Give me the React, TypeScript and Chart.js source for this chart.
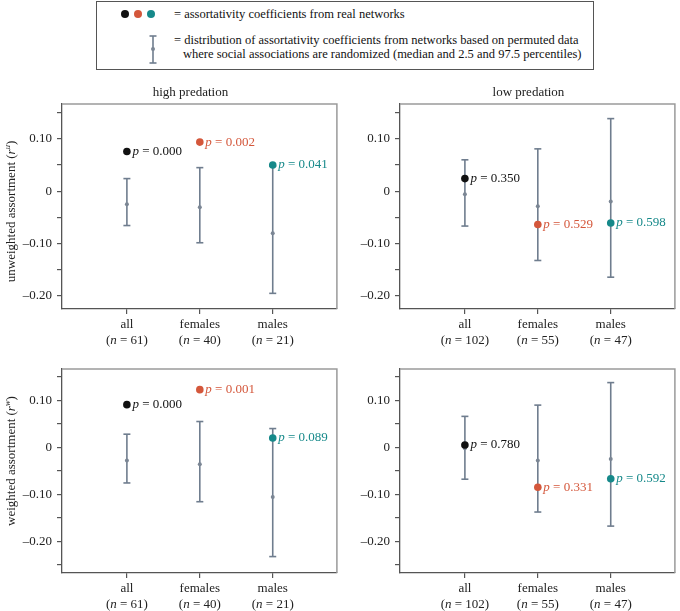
import React, { useEffect, useRef } from 'react';
import { Chart, registerables } from 'chart.js';

Chart.register(...registerables);

// ---------- data ----------
const categories = ['all', 'females', 'males'];
const nHigh = [61, 40, 21];
const nLow = [102, 55, 47];

const yTickValues = [0.1, 0, -0.1, -0.2];
const yTickLabels = ['0.10', '0', '\u20130.10', '\u20130.20'];

// high predation, unweighted
const highUnwReal = [0.076, 0.094, 0.05];
const highUnwMedian = [-0.025, -0.031, -0.081];
const highUnwLow = [-0.066, -0.099, -0.196];
const highUnwHigh = [0.024, 0.045, 0.048];
const highUnwP = ['0.000', '0.002', '0.041'];

// low predation, unweighted
const lowUnwReal = [0.024, -0.064, -0.061];
const lowUnwMedian = [-0.006, -0.029, -0.02];
const lowUnwLow = [-0.067, -0.133, -0.165];
const lowUnwHigh = [0.06, 0.081, 0.139];
const lowUnwP = ['0.350', '0.529', '0.598'];

// high predation, weighted
const highWReal = [0.091, 0.123, 0.02];
const highWMedian = [-0.028, -0.036, -0.106];
const highWLow = [-0.076, -0.116, -0.233];
const highWHigh = [0.028, 0.055, 0.04];
const highWP = ['0.000', '0.001', '0.089'];

// low predation, weighted
const lowWReal = [0.005, -0.085, -0.067];
const lowWMedian = [-0.002, -0.028, -0.025];
const lowWLow = [-0.068, -0.138, -0.168];
const lowWHigh = [0.066, 0.09, 0.138];
const lowWP = ['0.780', '0.331', '0.592'];

// ---------- styles ----------
const FONT = '"Liberation Serif", "Times New Roman", serif';
const pointColors = ['#111111', '#d4573b', '#16898a'];
const barColor = '#6f7d8e';
const medianColor = '#7b8694';
const axisColor = '#555555';
const boxColor = '#9a9a9a';
const textColor = '#222222';

type Run = { t: string; italic?: boolean; size?: number; dy?: number };

function runFont(r: Run) {
  return `${r.italic ? 'italic ' : ''}${r.size ?? 13}px ${FONT}`;
}

function measureRuns(ctx: CanvasRenderingContext2D, runs: Run[]) {
  let w = 0;
  for (const r of runs) {
    ctx.font = runFont(r);
    w += ctx.measureText(r.t).width;
  }
  return w;
}

function drawRuns(ctx: CanvasRenderingContext2D, runs: Run[], x: number, y: number, align: 'left' | 'center') {
  let cx = x;
  if (align === 'center') cx = x - measureRuns(ctx, runs) / 2;
  ctx.textAlign = 'left';
  ctx.textBaseline = 'middle';
  for (const r of runs) {
    ctx.font = runFont(r);
    ctx.fillText(r.t, cx, y + (r.dy ?? 0));
    cx += ctx.measureText(r.t).width;
  }
}

type PanelProps = {
  left: number;
  top: number;
  width: number;
  height: number;
  padTop: number;
  padRight: number;
  yWidth: number;
  xHeight: number;
  yMin: number;
  yMax: number;
  real: number[];
  median: number[];
  low: number[];
  high: number[];
  p: string[];
  n: number[];
  title?: string;
  yTitle?: string;
  yTitleSup?: string;
  yTitleShift?: number;
};

function Panel(props: PanelProps) {
  const ref = useRef<HTMLCanvasElement | null>(null);

  useEffect(() => {
    const canvas = ref.current;
    if (!canvas) return;
    const { real, median, low, high, p, n } = props;

    const datasets: any[] = [
      {
        label: 'real',
        data: categories.map((_, i) => ({ x: i, y: real[i] })),
        backgroundColor: pointColors,
        pointBackgroundColor: pointColors,
        pointRadius: 3.8,
        pointHoverRadius: 3.8,
        borderWidth: 0,
        pointBorderWidth: 0,
      },
      {
        label: 'median',
        data: categories.map((_, i) => ({ x: i, y: median[i] })),
        backgroundColor: medianColor,
        pointBackgroundColor: medianColor,
        pointRadius: 2,
        pointHoverRadius: 2,
        borderWidth: 0,
        pointBorderWidth: 0,
      },
    ];
    categories.forEach((_, i) => {
      datasets.push({
        label: 'range' + i,
        showLine: true,
        data: [
          { x: i, y: low[i] },
          { x: i, y: high[i] },
        ],
        borderColor: barColor,
        borderWidth: 1.6,
        pointStyle: 'line',
        pointRadius: 3.5,
        pointHoverRadius: 3.5,
        pointBorderColor: barColor,
        pointBorderWidth: 1.6,
        fill: false,
      });
    });

    const decor = {
      id: 'decor',
      afterDraw(chart: any) {
        const ctx: CanvasRenderingContext2D = chart.ctx;
        const area = chart.chartArea;
        const xs = chart.scales.x;
        const ys = chart.scales.y;
        ctx.save();
        // top and right frame lines
        ctx.strokeStyle = boxColor;
        ctx.lineWidth = 1.5;
        ctx.beginPath();
        ctx.moveTo(area.left, area.top);
        ctx.lineTo(area.right, area.top);
        ctx.lineTo(area.right, area.bottom);
        ctx.stroke();

        // p-value labels
        categories.forEach((_, i) => {
          const px = xs.getPixelForValue(i);
          const py = ys.getPixelForValue(real[i]);
          ctx.fillStyle = pointColors[i];
          drawRuns(ctx, [{ t: 'p', italic: true }, { t: ' = ' + p[i] }], px + 5.5, py, 'left');
        });

        // category labels
        ctx.fillStyle = textColor;
        categories.forEach((c, i) => {
          const px = xs.getPixelForValue(i);
          drawRuns(ctx, [{ t: c }], px, area.bottom + 16, 'center');
          drawRuns(ctx, [{ t: '(' }, { t: 'n', italic: true }, { t: ' = ' + n[i] + ')' }], px, area.bottom + 32, 'center');
        });

        // panel title
        if (props.title) {
          drawRuns(ctx, [{ t: props.title }], (area.left + area.right) / 2 - 9, area.top - 11.5, 'center');
        }

        // y-axis title
        if (props.yTitle) {
          ctx.translate(11.5, (area.top + area.bottom) / 2 + (props.yTitleShift ?? 0));
          ctx.rotate(-Math.PI / 2);
          drawRuns(
            ctx,
            [
              { t: props.yTitle + ' (' },
              { t: 'r', italic: true },
              { t: props.yTitleSup || '', italic: true, size: 8.5, dy: -4 },
              { t: ')' },
            ],
            0,
            0,
            'center'
          );
        }
        ctx.restore();
      },
    };

    const chart = new Chart(canvas, {
      type: 'scatter',
      data: { datasets },
      plugins: [decor],
      options: {
        animation: false,
        responsive: false,
        events: [],
        layout: { padding: { top: props.padTop, right: props.padRight, left: 0, bottom: 0 } },
        plugins: {
          legend: { display: false },
          tooltip: { enabled: false },
          title: { display: false },
        },
        scales: {
          x: {
            type: 'linear',
            min: -0.89,
            max: 2.88,
            afterFit: (s: any) => {
              s.height = props.xHeight;
            },
            ticks: { display: false, stepSize: 1, includeBounds: false },
            grid: {
              display: true,
              drawOnChartArea: false,
              drawTicks: true,
              tickLength: 5,
              color: axisColor,
              lineWidth: 1.2,
            },
            border: { display: true, color: axisColor, width: 1.3 },
          },
          y: {
            type: 'linear',
            min: props.yMin,
            max: props.yMax,
            afterFit: (s: any) => {
              s.width = props.yWidth;
            },
            ticks: {
              stepSize: 0.05,
              includeBounds: false,
              autoSkip: false,
              padding: 5,
              color: textColor,
              font: { family: FONT, size: 13 },
              callback: (v: any) => {
                const val = Number(v);
                const idx = yTickValues.findIndex((t) => Math.abs(t - val) < 1e-6);
                return idx >= 0 ? yTickLabels[idx] : '';
              },
            },
            grid: {
              display: true,
              drawOnChartArea: false,
              drawTicks: true,
              tickLength: 5,
              color: axisColor,
              lineWidth: 1.2,
            },
            border: { display: true, color: axisColor, width: 1.3 },
          },
        },
      } as any,
    });
    return () => chart.destroy();
  }, []);

  return (
    <canvas
      ref={ref}
      width={props.width}
      height={props.height}
      style={{
        position: 'absolute',
        left: props.left,
        top: props.top,
        width: props.width,
        height: props.height,
      }}
    />
  );
}

function Legend() {
  const textStyle: React.CSSProperties = {
    position: 'absolute',
    whiteSpace: 'nowrap',
    fontFamily: FONT,
    fontSize: 12.5,
    lineHeight: '15px',
    color: '#111',
  };
  const dot = (cx: number, color: string): React.CSSProperties => ({
    position: 'absolute',
    left: cx - 4,
    top: 14 - 4,
    width: 8,
    height: 8,
    borderRadius: '50%',
    background: color,
  });
  return (
    <>
      <div
        style={{
          position: 'absolute',
          left: 96,
          top: 1,
          width: 498,
          height: 69,
          border: '1px solid #555',
          boxSizing: 'border-box',
        }}
      />
      <div style={dot(125, pointColors[0])} />
      <div style={dot(138, pointColors[1])} />
      <div style={dot(151, pointColors[2])} />
      <div style={{ ...textStyle, left: 174, top: 6.5 }}>= assortativity coefficients from real networks</div>
      <svg style={{ position: 'absolute', left: 143, top: 30 }} width={20} height={40}>
        <line x1={10} y1={6} x2={10} y2={33} stroke={barColor} strokeWidth={1.6} />
        <line x1={6.5} y1={6} x2={13.5} y2={6} stroke={barColor} strokeWidth={1.6} />
        <line x1={6.5} y1={33} x2={13.5} y2={33} stroke={barColor} strokeWidth={1.6} />
        <circle cx={10} cy={19} r={2} fill={medianColor} />
      </svg>
      <div style={{ ...textStyle, left: 174, top: 32.5 }}>
        = distribution of assortativity coefficients from networks based on permuted data
      </div>
      <div style={{ ...textStyle, left: 183, top: 47 }}>
        where social associations are randomized (median and 2.5 and 97.5 percentiles)
      </div>
    </>
  );
}

export default function App() {
  return (
    <div
      style={{
        position: 'absolute',
        left: 0,
        top: 0,
        width: 680,
        height: 611,
        background: '#ffffff',
        overflow: 'hidden',
      }}
    >
      <Legend />
      <Panel
        left={0}
        top={80}
        width={342}
        height={270}
        padTop={24}
        padRight={2}
        yWidth={62}
        xHeight={41}
        yMin={-0.226}
        yMax={0.167}
        real={highUnwReal}
        median={highUnwMedian}
        low={highUnwLow}
        high={highUnwHigh}
        p={highUnwP}
        n={nHigh}
        title="high predation"
        yTitle="unweighted assortment"
        yTitleSup="u"
        yTitleShift={5}
      />
      <Panel
        left={345}
        top={80}
        width={335}
        height={270}
        padTop={24}
        padRight={4}
        yWidth={55}
        xHeight={41}
        yMin={-0.226}
        yMax={0.167}
        real={lowUnwReal}
        median={lowUnwMedian}
        low={lowUnwLow}
        high={lowUnwHigh}
        p={lowUnwP}
        n={nLow}
        title="low predation"
      />
      <Panel
        left={0}
        top={350}
        width={342}
        height={261}
        padTop={19}
        padRight={2}
        yWidth={62}
        xHeight={38}
        yMin={-0.268}
        yMax={0.167}
        real={highWReal}
        median={highWMedian}
        low={highWLow}
        high={highWHigh}
        p={highWP}
        n={nHigh}
        yTitle="weighted assortment"
        yTitleSup="w"
        yTitleShift={-10}
      />
      <Panel
        left={345}
        top={350}
        width={335}
        height={261}
        padTop={19}
        padRight={3}
        yWidth={55}
        xHeight={38}
        yMin={-0.268}
        yMax={0.167}
        real={lowWReal}
        median={lowWMedian}
        low={lowWLow}
        high={lowWHigh}
        p={lowWP}
        n={nLow}
      />
    </div>
  );
}
